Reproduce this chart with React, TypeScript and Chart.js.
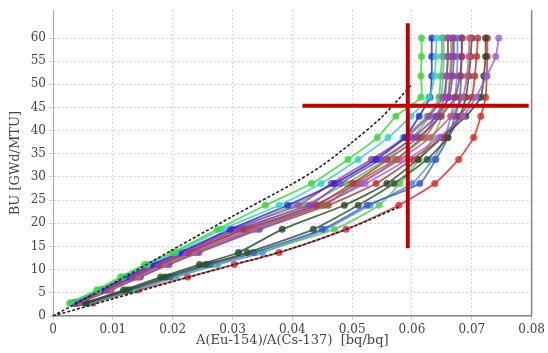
import React, { useEffect, useRef } from "react";
import { Chart, registerables } from "chart.js";

Chart.register(...registerables);

// Burnup sample points shared by all curves [GWd/MTU]
const BU = [2.8, 5.6, 8.4, 11.1, 13.7, 18.7, 23.9, 28.6, 33.8, 38.5, 43.1, 47.2, 51.8, 56.0, 60.0];

// A(Eu-154)/A(Cs-137) for each curve at the BU points above
const curveGreen = [0.0028, 0.0073, 0.0113, 0.0153, 0.0200, 0.0275, 0.0355, 0.0432, 0.0493, 0.0542, 0.0573, 0.0615, 0.0615, 0.0616, 0.0616];
const curveCyan = [0.0030, 0.0076, 0.0117, 0.0158, 0.0205, 0.0283, 0.0378, 0.0448, 0.0510, 0.0560, 0.0598, 0.0628, 0.0638, 0.0640, 0.0641];
const curveBlue = [0.0034, 0.0080, 0.0122, 0.0165, 0.0212, 0.0296, 0.0392, 0.0470, 0.0540, 0.0588, 0.0612, 0.0630, 0.0633, 0.0633, 0.0633];
const curveMagenta = [0.0035, 0.0082, 0.0125, 0.0168, 0.0216, 0.0300, 0.0410, 0.0465, 0.0532, 0.0590, 0.0628, 0.0652, 0.0658, 0.0660, 0.0660];
const curvePurple = [0.0037, 0.0085, 0.0128, 0.0172, 0.0220, 0.0308, 0.0428, 0.0480, 0.0548, 0.0602, 0.0640, 0.0662, 0.0668, 0.0670, 0.0670];
const curveMaroon = [0.0038, 0.0087, 0.0131, 0.0176, 0.0225, 0.0318, 0.0440, 0.0500, 0.0560, 0.0610, 0.0648, 0.0672, 0.0680, 0.0683, 0.0684];
const curveBrown = [0.0039, 0.0089, 0.0134, 0.0179, 0.0228, 0.0322, 0.0453, 0.0505, 0.0572, 0.0620, 0.0645, 0.0660, 0.0665, 0.0667, 0.0668];
const curveTeal = [0.0036, 0.0083, 0.0126, 0.0170, 0.0218, 0.0305, 0.0400, 0.0470, 0.0535, 0.0585, 0.0625, 0.0648, 0.0652, 0.0653, 0.0653];
const curvePink = [0.0040, 0.0091, 0.0137, 0.0182, 0.0232, 0.0330, 0.0435, 0.0510, 0.0580, 0.0630, 0.0665, 0.0685, 0.0692, 0.0695, 0.0696];
const curveLilac = [0.0041, 0.0093, 0.0140, 0.0186, 0.0236, 0.0335, 0.0445, 0.0522, 0.0592, 0.0645, 0.0685, 0.0707, 0.0725, 0.0740, 0.0745];
const curveSteel = [0.0042, 0.0095, 0.0143, 0.0190, 0.0240, 0.0340, 0.0450, 0.0515, 0.0575, 0.0615, 0.0640, 0.0655, 0.0658, 0.0660, 0.0660];
const curveGreen2 = [0.0039, 0.0088, 0.0133, 0.0178, 0.0226, 0.0315, 0.0420, 0.0490, 0.0555, 0.0600, 0.0630, 0.0645, 0.0648, 0.0650, 0.0650];
const curveDarkRed = [0.0043, 0.0097, 0.0146, 0.0194, 0.0244, 0.0345, 0.0460, 0.0540, 0.0600, 0.0650, 0.0680, 0.0700, 0.0705, 0.0708, 0.0710];
const curveDarkGreen = [0.0052, 0.0118, 0.0180, 0.0245, 0.0310, 0.0383, 0.0487, 0.0558, 0.0610, 0.0650, 0.0690, 0.0715, 0.0720, 0.0723, 0.0723];
const curveDarkGreen2 = [0.0055, 0.0124, 0.0188, 0.0255, 0.0325, 0.0435, 0.0510, 0.0570, 0.0625, 0.0660, 0.0680, 0.0690, 0.0695, 0.0698, 0.0700];
const curveBlue2 = [0.0057, 0.0128, 0.0195, 0.0262, 0.0335, 0.0450, 0.0525, 0.0613, 0.0640, 0.0660, 0.0672, 0.0680, 0.0682, 0.0683, 0.0683];
const curveGreen3 = [0.0059, 0.0132, 0.0200, 0.0268, 0.0340, 0.0470, 0.0545, 0.0580, 0.0612, 0.0635, 0.0650, 0.0660, 0.0663, 0.0665, 0.0665];
const curveSky = [0.0060, 0.0135, 0.0205, 0.0275, 0.0350, 0.0455, 0.0530, 0.0600, 0.0635, 0.0655, 0.0665, 0.0672, 0.0675, 0.0676, 0.0676];
const curveRed = [0.0067, 0.0142, 0.0225, 0.0303, 0.0378, 0.0490, 0.0578, 0.0638, 0.0678, 0.0703, 0.0715, 0.0723, 0.0725, 0.0726, 0.0726];

const curves = [
  curveGreen, curveCyan, curveBlue, curveMagenta, curvePurple, curveMaroon, curveBrown,
  curveTeal, curvePink, curveLilac, curveSteel, curveGreen2, curveDarkRed,
  curveDarkGreen, curveDarkGreen2, curveBlue2, curveGreen3, curveSky, curveRed,
];
const curveColors = [
  "#35d835", "#30d0c8", "#2a2ad8", "#b040a0", "#8a3ad0", "#a83848", "#9a6a30",
  "#58b890", "#d05080", "#9a60d8", "#4a70d0", "#48c848", "#c03030",
  "#284a28", "#305030", "#3a58c8", "#56c856", "#5090e0", "#e02828",
];

// Dashed envelopes
const upperEnvX = [0, 0.01, 0.02, 0.03, 0.04, 0.045, 0.05, 0.055, 0.06];
const upperEnvY = [0, 7.0, 14.3, 21.5, 28.5, 32.5, 37.5, 43.0, 50.0];
const lowerEnvX = [0, 0.01, 0.02, 0.03, 0.04, 0.05, 0.058];
const lowerEnvY = [0, 3.7, 7.4, 11.0, 14.6, 19.2, 23.6];

// Red crosshair
const crossVX = [0.0593, 0.0593];
const crossVY = [14.6, 63.2];
const crossHX = [0.0417, 0.0795];
const crossHY = [45.4, 45.4];

// Axis ticks
const xTicks = [0, 0.01, 0.02, 0.03, 0.04, 0.05, 0.06, 0.07, 0.08];
const yTicks = [0, 5, 10, 15, 20, 25, 30, 35, 40, 45, 50, 55, 60];

const pts = (xs: number[], ys: number[]) => xs.map((x, i) => ({ x, y: ys[i] }));

const FONT = "'DejaVu Serif', serif";

export default function App() {
  const ref = useRef<HTMLCanvasElement>(null);
  useEffect(() => {
    if (!ref.current) return;
    const datasets: any[] = [];
    datasets.push({
      data: pts(crossVX, crossVY), borderColor: "#c00000", borderWidth: 4,
      pointRadius: 0, showLine: true, order: -2,
    });
    datasets.push({
      data: pts(crossHX, crossHY), borderColor: "#c00000", borderWidth: 4,
      pointRadius: 0, showLine: true, order: -2,
    });
    datasets.push({
      data: pts(upperEnvX, upperEnvY), borderColor: "#222", borderWidth: 1.6,
      borderDash: [3, 2], pointRadius: 0, showLine: true, order: -1, tension: 0.3,
    });
    datasets.push({
      data: pts(lowerEnvX, lowerEnvY), borderColor: "#222", borderWidth: 1.6,
      borderDash: [3, 2], pointRadius: 0, showLine: true, order: -1, tension: 0.3,
    });
    curves.forEach((xs, i) => {
      const c = curveColors[i];
      datasets.push({
        data: pts(xs, BU), borderColor: c + "d0", backgroundColor: c + "d0",
        borderWidth: 1.8, pointRadius: 3.5, pointBorderWidth: 0, showLine: true,
        order: 1, tension: 0.2,
      });
    });

    const chart = new Chart(ref.current, {
      type: "scatter",
      data: { datasets },
      plugins: [{
        id: "rightBorder",
        afterDatasetsDraw(c: any) {
          const { ctx, chartArea } = c;
          ctx.save();
          ctx.strokeStyle = "#888";
          ctx.lineWidth = 1.5;
          ctx.beginPath();
          ctx.moveTo(chartArea.right, chartArea.top);
          ctx.lineTo(chartArea.right, chartArea.bottom);
          ctx.stroke();
          ctx.restore();
        },
      }],
      options: {
        animation: false,
        responsive: false,
        layout: { padding: { left: 0, right: 15, top: 9, bottom: 0 } },
        plugins: { legend: { display: false }, tooltip: { enabled: false } },
        scales: {
          x: {
            type: "linear", min: 0, max: 0.08,
            afterBuildTicks: (s: any) => { s.ticks = xTicks.map((v) => ({ value: v })); },
            afterFit: (s: any) => { s.height = 37; },
            ticks: {
              font: { family: FONT, size: 12 }, color: "#444", padding: 3,
              maxRotation: 0,
              callback: (v: any) => (v === 0 ? "0" : Number(v).toFixed(2)),
            },
            grid: { color: "#cfcfcf", tickLength: 4, lineWidth: 1 },
            border: { color: "#888", width: 1.5, dash: [1.5, 2.5] },
            title: {
              display: true, text: "A(Eu-154)/A(Cs-137)  [bq/bq]",
              font: { family: FONT, size: 13 }, color: "#444",
              padding: { top: 0, bottom: 5 },
            },
          },
          y: {
            type: "linear", min: 0, max: 66,
            afterBuildTicks: (s: any) => { s.ticks = yTicks.map((v) => ({ value: v })); },
            afterFit: (s: any) => { s.width = 53; },
            ticks: { font: { family: FONT, size: 12 }, color: "#444", padding: 3 },
            grid: { color: "#cfcfcf", tickLength: 4, lineWidth: 1 },
            border: { color: "#aaa", width: 1, dash: [1.5, 2.5] },
            title: {
              display: true, text: "BU [GWd/MTU]",
              font: { family: FONT, size: 13 }, color: "#444",
              padding: { top: 8, bottom: 0 },
            },
          },
        },
      } as any,
    });
    return () => chart.destroy();
  }, []);

  return (
    <div style={{ position: "fixed", left: 0, top: 0, width: 548, height: 353, background: "#fff" }}>
      <canvas ref={ref} width={548} height={353} />
    </div>
  );
}
